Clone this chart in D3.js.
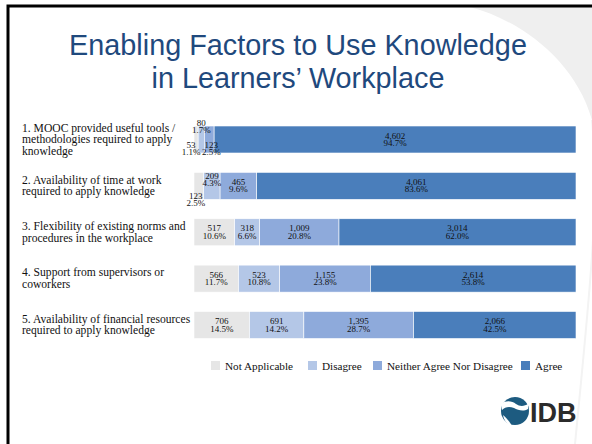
<!DOCTYPE html>
<html lang="en">
  <head>
    <meta charset="UTF-8" />
    <title>Enabling Factors to Use Knowledge</title>
    <style>
      html, body { margin: 0; padding: 0; background: #fff; }
      svg { display: block; }
    </style>
  </head>
  <body>
    <svg id="svg" width="592" height="444"></svg>

    <script src="https://d3js.org/d3.v7.min.js"></script>
    <script>
      // data
      const series = ['Not Applicable', 'Disagree', 'Neither Agree Nor Disagree', 'Agree'];
      const colors = ['#e6e6e6', '#b4c7e7', '#8eaadb', '#4a7ebb'];

      const categories = [
        ['1. MOOC provided useful tools /', 'methodologies required to apply', 'knowledge'],
        ['2. Availability of time at work', 'required to apply knowledge'],
        ['3. Flexibility of existing norms and', 'procedures in the workplace'],
        ['4. Support from supervisors or', 'coworkers'],
        ['5. Availability of financial resources', 'required to apply knowledge']
      ];
      const counts = [
        [53, 80, 123, 4602],
        [123, 209, 465, 4061],
        [517, 318, 1009, 3014],
        [566, 523, 1155, 2614],
        [706, 691, 1395, 2066]
      ];
      const percents = [
        ['1.1%', '1.7%', '2.5%', '94.7%'],
        ['2.5%', '4.3%', '9.6%', '83.6%'],
        ['10.6%', '6.6%', '20.8%', '62.0%'],
        ['11.7%', '10.8%', '23.8%', '53.8%'],
        ['14.5%', '14.2%', '28.7%', '42.5%']
      ];

      // labels of thin segments are nudged off the bar (row, series) -> [dx, dy]
      const nudge = {
        '0-0': [-5, 9], '0-1': [0, -13], '0-2': [2, 9],
        '1-0': [-3, 14], '1-1': [0, -6]
      };

      const serif = "'Liberation Serif', 'DejaVu Serif', serif";
      const sans = "'Liberation Sans', Arial, sans-serif";

      const svg = d3.select('#svg');

      // slide background swoosh and frame
      svg.append('path')
        .attr('d', 'M470,7 C520,20 575,60 592,120 L592,7 Z')
        .attr('fill', '#efefef');
      svg.append('path')
        .attr('d', 'M592,120 C600,200 590,290 575,444')
        .attr('fill', 'none')
        .attr('stroke', '#f3f3f3')
        .attr('stroke-width', 2);
      svg.append('path')
        .attr('d', 'M8,444 L8,6 L592,6')
        .attr('fill', 'none')
        .attr('stroke', '#000')
        .attr('stroke-width', 3);

      // title
      ['Enabling Factors to Use Knowledge', 'in Learners\u2019 Workplace'].forEach((s, i) => {
        svg.append('text')
          .attr('x', 298).attr('y', 55 + i * 33)
          .attr('text-anchor', 'middle')
          .style('font-family', sans)
          .style('font-size', '28.8px')
          .style('fill', '#1f497d')
          .text(s);
      });

      const x = d3.scaleLinear().domain([0, 1]).range([194, 576]);
      const y = d3.scalePoint().domain(d3.range(categories.length)).range([139.5, 325]);
      const barH = 27;

      const stack = d3.stack().keys(d3.range(series.length));
      const rows = counts.map((r) => {
        const total = d3.sum(r);
        return r.map((v) => v / total);
      });
      const layers = stack(rows);

      const g = svg.append('g');
      layers.forEach((layer, si) => {
        g.selectAll(null)
          .data(layer)
          .enter()
          .append('rect')
          .attr('x', (d) => x(d[0]))
          .attr('y', (d, i) => y(i) - barH / 2)
          .attr('width', (d) => x(d[1]) - x(d[0]))
          .attr('height', barH)
          .attr('fill', colors[si])
          .attr('stroke', '#fff')
          .attr('stroke-width', 0.6);
      });

      // data labels
      layers.forEach((layer, si) => {
        layer.forEach((d, ri) => {
          const n = nudge[ri + '-' + si] || [0, 0];
          const cx = (x(d[0]) + x(d[1])) / 2 + n[0];
          const cy = y(ri) + n[1];
          const t = g.append('text')
            .attr('text-anchor', 'middle')
            .style('font-family', serif)
            .style('font-size', '9px')
            .style('fill', '#111');
          t.append('tspan').attr('x', cx).attr('y', cy - 1).text(d3.format(',')(counts[ri][si]));
          t.append('tspan').attr('x', cx).attr('y', cy + 6.5).text(percents[ri][si]);
        });
      });

      // category labels
      categories.forEach((lines, i) => {
        const lh = 11.5;
        const y0 = y(i) - (lines.length - 1) * lh / 2 + 3.5;
        const t = svg.append('text')
          .style('font-family', serif)
          .style('font-size', '11.6px')
          .style('fill', '#111');
        lines.forEach((s, k) => {
          t.append('tspan').attr('x', 22).attr('y', y0 + k * lh).text(s);
        });
      });

      // legend
      const legX = [211, 308, 373, 521];
      const leg = svg.append('g');
      series.forEach((s, i) => {
        leg.append('rect')
          .attr('x', legX[i]).attr('y', 361)
          .attr('width', 9).attr('height', 9)
          .attr('fill', colors[i]);
        leg.append('text')
          .attr('x', legX[i] + 14).attr('y', 369.5)
          .style('font-family', serif)
          .style('font-size', '11.2px')
          .style('fill', '#111')
          .text(s);
      });

      // IDB logo
      const logo = svg.append('g');
      logo.append('circle').attr('cx', 515).attr('cy', 411).attr('r', 14).attr('fill', '#1d5b80');
      logo.append('path')
        .attr('d', 'M501,404 C506,400 512,401 516,404 C520,407 525,406 528,404 L528,409 C523,412 518,410 514,408 C509,406 505,407 502,410 Z')
        .attr('fill', '#fff');
      logo.append('path')
        .attr('d', 'M503,415 C507,418 511,424 512,426 C508,425 504,421 503,415 Z')
        .attr('fill', '#fff');
      logo.append('text')
        .attr('x', 530).attr('y', 422)
        .style('font-family', sans)
        .style('font-weight', 'bold')
        .style('font-size', '27px')
        .style('fill', '#2b2b2b')
        .text('IDB');
    </script>
  </body>
</html>
